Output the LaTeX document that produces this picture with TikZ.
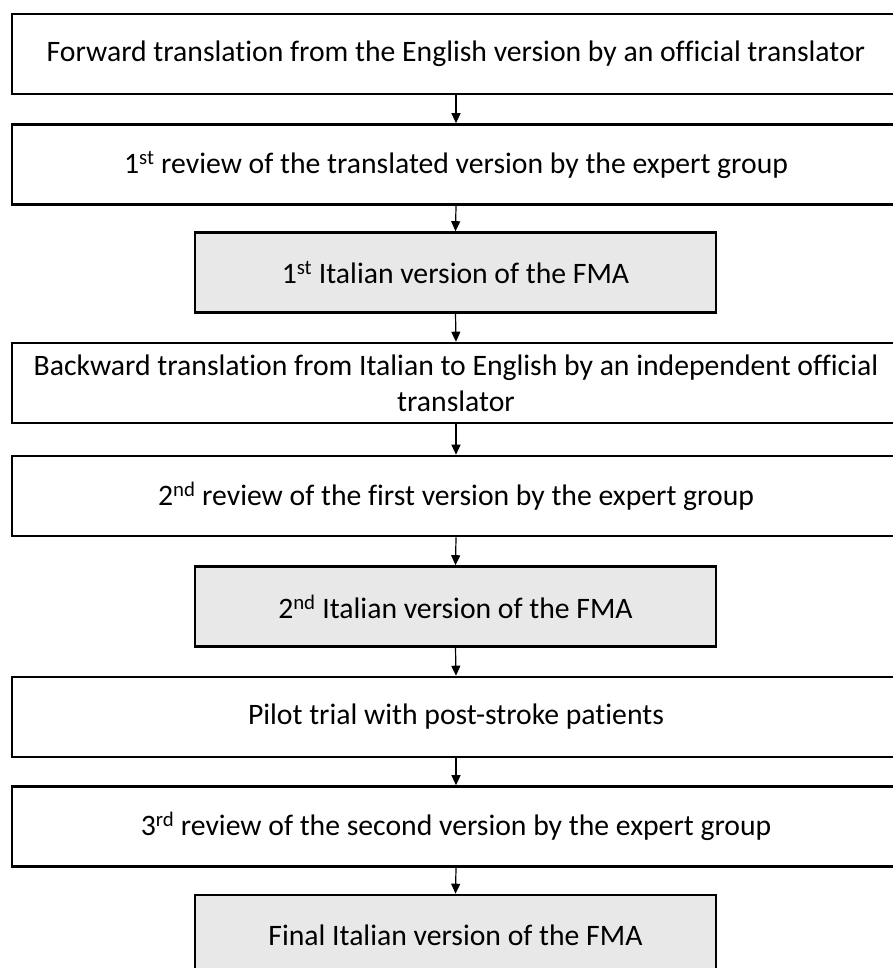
\documentclass[tikz,border=0pt]{standalone}
\usepackage{fontspec}
\setmainfont[Ligatures=CommonOff]{Carlito}
\usetikzlibrary{arrows.meta}
\begin{document}
\begin{tikzpicture}[x=1pt,y=-1pt,
  stepbox/.style={draw=black, line width=2.6pt, fill=white, minimum width=888pt, minimum height=80pt, inner sep=0pt, align=center, font=\fontsize{29.7}{36}\selectfont, text=black},
  graybox/.style={stepbox, fill=black!9, minimum width=521pt},
  flow/.style={-{Triangle[length=10pt,width=9pt]}, line width=1.2pt}]
\useasboundingbox (0,0) rectangle (893,968);
\clip (0,0) rectangle (893,968);
\node[stepbox] (b1) at (456,54) {Forward translation from the English version by an official translator};
\node[stepbox] (b2) at (456,164.5) {1\textsuperscript{st} review of the translated version by the expert group};
\node[graybox] (b3) at (455.5,272.5) {1\textsuperscript{st} Italian version of the FMA};
\node[stepbox] (b4) at (456,383) {Backward translation from Italian to English by an independent official\\translator};
\node[stepbox] (b5) at (456,496) {2\textsuperscript{nd} review of the first version by the expert group};
\node[graybox] (b6) at (455.5,606.5) {2\textsuperscript{nd} Italian version of the FMA};
\node[stepbox] (b7) at (456,717) {Pilot trial with post-stroke patients};
\node[stepbox] (b8) at (456,826.5) {3\textsuperscript{rd} review of the second version by the expert group};
\node[graybox] (b9) at (455.5,935) {Final Italian version of the FMA};
\draw[flow] (b1.south) -- (b2.north);
\draw[flow] (b2.south) -- (b3.north);
\draw[flow] (b3.south) -- (b4.north);
\draw[flow] (b4.south) -- (b5.north);
\draw[flow] (b5.south) -- (b6.north);
\draw[flow] (b6.south) -- (b7.north);
\draw[flow] (b7.south) -- (b8.north);
\draw[flow] (b8.south) -- (b9.north);
\end{tikzpicture}
\end{document}
